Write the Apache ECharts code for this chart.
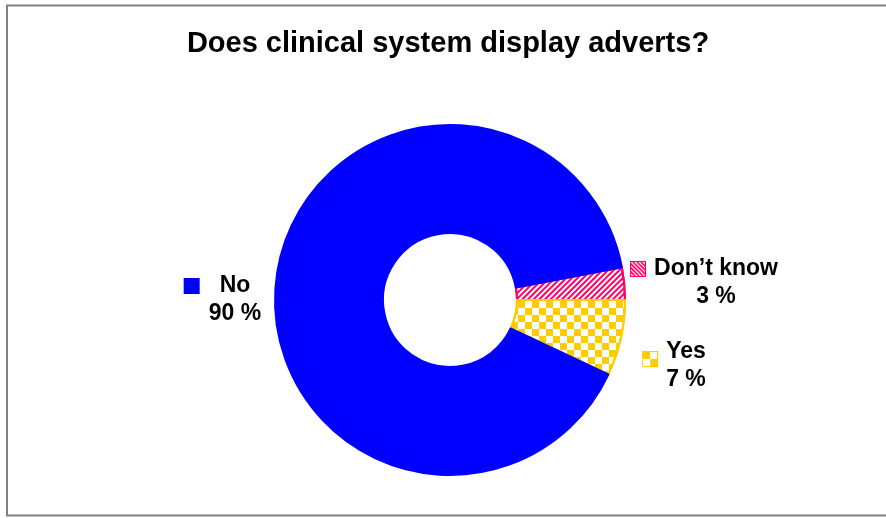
<!DOCTYPE html>
<html><head><meta charset="utf-8">
<script src="https://cdn.jsdelivr.net/npm/echarts@6/dist/echarts.min.js"></script>
<style>html,body{margin:0;padding:0;background:#fff}#c{width:886px;height:518px}</style>
</head><body><div id="c"></div>
<script>
// ---- data ----
const chartTitle = 'Does clinical system display adverts?';
const categories = ['Don\u2019t know', 'Yes', 'No'];
const values = [3, 7, 90];
const valueSuffix = ' %';

// ---- styles / layout ----
const FONT = '"Liberation Sans", Arial, sans-serif';
const sliceStyle = [
  { fill: '#FFFFFF', border: '#FF0066', decal: { symbol: 'rect', symbolSize: 1, dashArrayX: [1, 0], dashArrayY: [2, 2], rotation: -Math.PI / 4, color: '#FF0066' } },
  { fill: '#FFFFFF', border: '#FFCC00', decal: { symbol: 'rect', symbolSize: 1, dashArrayX: [[7, 7], [0, 7, 7, 0]], dashArrayY: [7, 0], color: '#FFCC00' } },
  { fill: '#0000FF', border: '#0000FF', decal: null }
];
const labelPos = [[716, 283], [686, 366], [235, 300]];
const iconGap = [9, 9, 21];
const iconVAlign = ['middle', 'bottom', 'middle'];
const ICON = 14;

function makeIcon(kind) {
  const c = document.createElement('canvas');
  c.width = ICON; c.height = ICON;
  const g = c.getContext('2d');
  g.fillStyle = '#fff'; g.fillRect(0, 0, ICON, ICON);
  if (kind === 0) {
    g.strokeStyle = '#FF0066'; g.lineWidth = 1.6;
    for (let k = -ICON; k < 2 * ICON; k += 4) { g.beginPath(); g.moveTo(k, 0); g.lineTo(k + ICON, ICON); g.stroke(); }
  } else if (kind === 1) {
    g.fillStyle = '#FFCC00';
    g.fillRect(0, 0, 7, 7); g.fillRect(7, 7, 7, 7);
  } else {
    g.fillStyle = '#0000FF'; g.fillRect(0, 0, ICON, ICON);
  }
  return c;
}

const data = categories.map((name, i) => ({
  name,
  value: values[i],
  itemStyle: {
    color: sliceStyle[i].fill,
    borderColor: sliceStyle[i].border,
    borderWidth: 2,
    decal: sliceStyle[i].decal || undefined
  },
  label: {
    formatter: '{icon|}{gap|}{t|' + name + '}{pad|}\n{t|' + values[i] + valueSuffix + '}',
    rich: {
      icon: { width: ICON, height: ICON, backgroundColor: { image: makeIcon(i) }, borderColor: sliceStyle[i].border, borderWidth: 2, verticalAlign: iconVAlign[i] },
      gap: { width: iconGap[i] },
      pad: { width: ICON + iconGap[i] }
    }
  }
}));

const chart = echarts.init(document.getElementById('c'), null, { renderer: 'canvas' });
chart.setOption({
  animation: false,
  backgroundColor: '#fff',
  title: {
    text: chartTitle, left: 443, textAlign: 'center', top: 24,
    textStyle: { fontFamily: FONT, fontSize: 29, fontWeight: 'bold', color: '#000' }
  },
  graphic: [{
    type: 'rect', shape: { x: 7, y: 5.5, width: 895, height: 510 },
    style: { fill: null, stroke: '#808080', lineWidth: 2 }, silent: true
  }],
  series: [{
    type: 'pie',
    center: [450, 300],
    radius: [67, 175],
    startAngle: 360 * values[0] / 100,
    clockwise: true,
    avoidLabelOverlap: false,
    labelLine: { show: false },
    label: {
      show: true, position: 'outside',
      fontFamily: FONT, fontSize: 23, fontWeight: 'bold', color: '#000', lineHeight: 28,
      rich: { t: { fontFamily: FONT, fontSize: 23, fontWeight: 'bold', color: '#000', lineHeight: 28 } }
    },
    labelLayout: function (p) {
      const pos = labelPos[p.dataIndex];
      return { x: pos[0], y: pos[1], align: 'center', verticalAlign: 'middle' };
    },
    emphasis: { disabled: true },
    data
  }]
});
</script>
</body></html>
